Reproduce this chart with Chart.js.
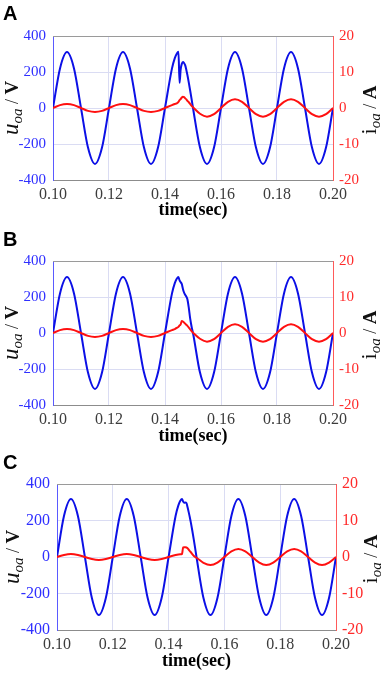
<!DOCTYPE html>
<html>
<head>
<meta charset="utf-8">
<script src="https://cdn.jsdelivr.net/npm/chart.js@4.4.1/dist/chart.umd.min.js"></script>
<style>
  body { margin: 0; background: #fff; width: 381px; height: 673px; position: relative; overflow: hidden; }
  .panel { position: absolute; left: 0; width: 381px; height: 225px; }
  .tag { position: absolute; left: 3px; font: bold 20px "Liberation Sans", Arial, sans-serif; color: #000; }
</style>
</head>
<body>
<div class="panel" style="top:0"><canvas id="chartA" width="381" height="225"></canvas></div>
<div class="panel" style="top:225px"><canvas id="chartB" width="381" height="225"></canvas></div>
<div class="panel" style="top:448px"><canvas id="chartC" width="381" height="225"></canvas></div>
<div class="tag" style="top:2px">A</div>
<div class="tag" style="top:228px">B</div>
<div class="tag" style="top:451px">C</div>

<script>
// sample times (s) - finer around the fault at ~0.145 s
const timeSec = [
  0.1000, 0.1025, 0.1050, 0.1075, 0.1100, 0.1125, 0.1150, 0.1175, 0.1200, 0.1225, 0.1250, 0.1275,
  0.1300, 0.1325, 0.1350, 0.1375, 0.1400, 0.1425,
  0.1435, 0.1442, 0.1448, 0.1452, 0.1456, 0.1460, 0.1464, 0.1468, 0.1472, 0.1476, 0.1480, 0.1485, 0.1490, 0.1495,
  0.1500, 0.1525, 0.1550, 0.1575, 0.1600, 0.1625, 0.1650, 0.1675, 0.1700, 0.1725, 0.1750, 0.1775,
  0.1800, 0.1825, 0.1850, 0.1875, 0.1900, 0.1925, 0.1950, 0.1975, 0.2000
];

// u_oa (V)
const voltageA = [
  0, 220, 311, 220, 0, -220, -311, -220, 0, 220, 311, 220, 0, -220, -311, -220, 0, 220,
  277, 301, 312, 140, 215, 245, 255, 250, 238, 213, 183, 141, 96, 49,
  0, -220, -311, -220, 0, 220, 311, 220, 0, -220, -311, -220, 0, 220, 311, 220, 0, -220, -311, -220, 0
];
const voltageB = [
  0, 220, 311, 220, 0, -220, -311, -220, 0, 220, 311, 220, 0, -220, -311, -220, 0, 220,
  277, 301, 311, 292, 282, 272, 245, 225, 212, 203, 188, 140, 80, 35,
  0, -220, -311, -220, 0, 220, 311, 220, 0, -220, -311, -220, 0, 220, 311, 220, 0, -220, -311, -220, 0
];
const voltageC = [
  0, 225, 318, 225, 0, -225, -318, -225, 0, 225, 318, 225, 0, -225, -318, -225, 0, 225,
  283, 308, 318, 304, 297, 299, 295, 272, 246, 218, 187, 144, 98, 50,
  0, -225, -318, -225, 0, 225, 318, 225, 0, -225, -318, -225, 0, 225, 318, 225, 0, -225, -318, -225, 0
];

// i_oa (A)
const currentA = [
  0, 0.8, 1.1, 0.8, 0, -0.8, -1.1, -0.8, 0, 0.8, 1.1, 0.8, 0, -0.8, -1.1, -0.8, 0, 0.8,
  1.1, 1.3, 1.7, 2.2, 2.5, 2.9, 3.1, 3.0, 2.7, 2.4, 2.0, 1.6, 1.1, 0.6,
  0.2, -1.6, -2.4, -1.7, 0, 1.7, 2.4, 1.7, 0, -1.7, -2.4, -1.7, 0, 1.7, 2.4, 1.7, 0, -1.7, -2.4, -1.7, 0
];
const currentB = [
  0, 0.8, 1.1, 0.8, 0, -0.8, -1.1, -0.8, 0, 0.8, 1.1, 0.8, 0, -0.8, -1.1, -0.8, 0, 0.8,
  1.1, 1.4, 1.7, 2.1, 2.4, 3.3, 3.2, 2.9, 2.6, 2.3, 2.0, 1.5, 1.0, 0.5,
  0.1, -1.6, -2.4, -1.7, 0, 1.7, 2.4, 1.7, 0, -1.7, -2.4, -1.7, 0, 1.7, 2.4, 1.7, 0, -1.7, -2.4, -1.7, 0
];
const currentC = [
  0, 0.55, 0.8, 0.55, 0, -0.55, -0.8, -0.55, 0, 0.55, 0.8, 0.55, 0, -0.55, -0.8, -0.55, 0, 0.55,
  0.7, 0.75, 0.8, 2.6, 2.65, 2.65, 2.6, 2.4, 2.0, 1.6, 1.3, 0.8, 0.35, 0,
  -0.2, -1.6, -2.2, -1.55, 0, 1.55, 2.2, 1.55, 0, -1.55, -2.2, -1.55, 0, 1.55, 2.2, 1.55, 0, -1.55, -2.2, -1.55, 0
];

const xTicks = [0.10, 0.12, 0.14, 0.16, 0.18, 0.20];
const voltTicks = [-400, -200, 0, 200, 400];
const ampTicks = [-20, -10, 0, 10, 20];

const SERIF = '"Liberation Serif", "Times New Roman", serif';
const GRID = '#dadcf3';

const leftTitle = [
  { text: 'u', font: 'italic 23px ' + SERIF },
  { text: 'oa', font: 'italic 15px ' + SERIF, dy: 4 },
  { text: ' / ', font: '18px ' + SERIF },
  { text: 'V', font: 'bold 19px ' + SERIF }
];
const rightTitle = [
  { text: 'i', font: '22px ' + SERIF },
  { text: 'oa', font: 'italic 15px ' + SERIF, dy: 4 },
  { text: ' / ', font: '18px ' + SERIF },
  { text: 'A', font: 'bold 19px ' + SERIF }
];

function drawRotated(ctx, x, y, parts) {
  ctx.save();
  ctx.translate(x, y);
  ctx.rotate(-Math.PI / 2);
  ctx.textBaseline = 'alphabetic';
  ctx.textAlign = 'left';
  ctx.fillStyle = '#111';
  let total = 0;
  parts.forEach(p => { ctx.font = p.font; total += ctx.measureText(p.text).width; });
  let cx = -total / 2;
  parts.forEach(p => {
    ctx.font = p.font;
    ctx.fillText(p.text, cx, p.dy || 0);
    cx += ctx.measureText(p.text).width;
  });
  ctx.restore();
}

// top frame line + side titles with subscripts
const frameTitles = {
  id: 'frameTitles',
  afterDraw(chart, args, opts) {
    const ctx = chart.ctx, area = chart.chartArea;
    ctx.save();
    ctx.strokeStyle = '#9a9a9a';
    ctx.lineWidth = 1;
    ctx.beginPath();
    ctx.moveTo(area.left, area.top + 0.5);
    ctx.lineTo(area.right, area.top + 0.5);
    ctx.stroke();
    ctx.restore();
    const mid = (area.top + area.bottom) / 2;
    drawRotated(ctx, opts.leftX, mid, leftTitle);
    drawRotated(ctx, opts.rightX, mid + 2, rightTitle);
  }
};

function buildPanel(id, volts, amps, box) {
  var ctx = document.getElementById(id).getContext('2d');
  return new Chart(ctx, {
    type: 'line',
    data: {
      datasets: [{
        label: 'i_oa',
        data: timeSec.map((t, i) => ({ x: t, y: amps[i] })),
        yAxisID: 'yI',
        borderColor: '#ff1010',
        borderWidth: 2,
        pointRadius: 0,
        cubicInterpolationMode: 'monotone'
      }, {
        label: 'u_oa',
        data: timeSec.map((t, i) => ({ x: t, y: volts[i] })),
        yAxisID: 'yU',
        borderColor: '#0c10e6',
        borderWidth: 2,
        pointRadius: 0,
        cubicInterpolationMode: 'monotone'
      }]
    },
    options: {
      responsive: false,
      animation: false,
      devicePixelRatio: 1,
      layout: { padding: { top: box.top, left: 0, right: 0, bottom: 0 } },
      plugins: {
        legend: { display: false },
        tooltip: { enabled: false },
        frameTitles: { leftX: box.leftTitleX, rightX: box.rightTitleX }
      },
      scales: {
        x: {
          type: 'linear',
          min: 0.1,
          max: 0.2,
          afterBuildTicks: s => { s.ticks = xTicks.map(v => ({ value: v })); },
          afterFit: s => { s.height = box.bottom; },
          ticks: {
            callback: v => v.toFixed(2),
            color: '#3c3c3c',
            font: { family: SERIF, size: 16 },
            padding: 5,
            maxRotation: 0,
            autoSkip: false
          },
          grid: { color: GRID, drawTicks: false },
          border: { color: '#8c8c8c' },
          title: {
            display: true,
            text: 'time(sec)',
            color: '#000',
            font: { family: SERIF, size: 18, weight: 'bold' },
            padding: { top: 0, bottom: box.titlePad }
          }
        },
        yU: {
          position: 'left',
          min: -400,
          max: 400,
          afterBuildTicks: s => { s.ticks = voltTicks.map(v => ({ value: v })); },
          afterFit: s => { s.width = box.left; },
          ticks: { color: '#2f2fff', font: { family: SERIF, size: box.yFont }, padding: 7 },
          grid: { color: GRID, drawTicks: false },
          border: { color: '#5a5aff' }
        },
        yI: {
          position: 'right',
          min: -20,
          max: 20,
          afterBuildTicks: s => { s.ticks = ampTicks.map(v => ({ value: v })); },
          afterFit: s => { s.width = box.right; },
          ticks: { color: '#ff2a2a', font: { family: SERIF, size: box.yFont }, padding: 6 },
          grid: { drawOnChartArea: false, drawTicks: false },
          border: { color: '#ff5a5a' }
        }
      }
    },
    plugins: [frameTitles]
  });
}

document.addEventListener('DOMContentLoaded', function() {
  buildPanel('chartA', voltageA, currentA, { top: 36, left: 53, right: 48, bottom: 45, titlePad: 4, yFont: 15, leftTitleX: 18, rightTitleX: 376 });
  buildPanel('chartB', voltageB, currentB, { top: 36, left: 53, right: 48, bottom: 45, titlePad: 3, yFont: 15, leftTitleX: 18, rightTitleX: 376 });
  buildPanel('chartC', voltageC, currentC, { top: 36, left: 57, right: 45, bottom: 43, titlePad: 1, yFont: 16, leftTitleX: 19, rightTitleX: 377 });
});
</script>
</body>
</html>
